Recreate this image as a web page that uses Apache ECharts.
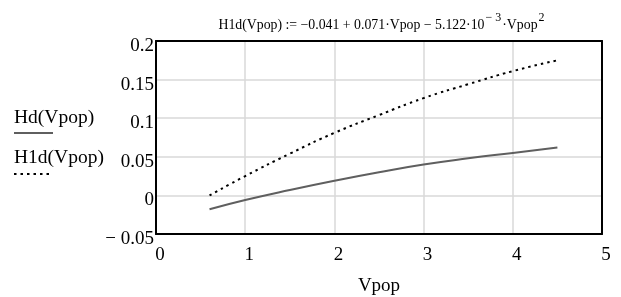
<!DOCTYPE html>
<html>
<head>
<meta charset="utf-8">
<script src="https://cdn.jsdelivr.net/npm/echarts@6/dist/echarts.min.js"></script>
<style>
  html, body { margin: 0; padding: 0; background: #fff; }
  #chart { width: 621px; height: 297px; }
</style>
</head>
<body>
<div id="chart"></div>
<script>
// values
const vpop = [0.6, 1.0, 1.5, 2.0, 2.5, 3.0, 3.5, 4.0, 4.5];
const hd   = [-0.018, -0.006, 0.007, 0.019, 0.030, 0.040, 0.048, 0.055, 0.062];
const h1d  = [0.000, 0.025, 0.054, 0.081, 0.104, 0.126, 0.144, 0.161, 0.175];
const xTicks = [0, 1, 2, 3, 4, 5];
const yTicks = [-0.05, 0, 0.05, 0.1, 0.15, 0.2];

const serif = 'Liberation Serif';
const myChart = echarts.init(document.getElementById('chart'));

// plain black frame line, kept on the grid edges (not at zero)
const frame = { show: true, onZero: false, lineStyle: { color: '#000', width: 2 } };

const option = {
  animation: false,
  textStyle: { fontFamily: serif },
  title: {
    text: '{a|H1d(Vpop) := −0.041 + 0.071·Vpop − 5.122·10}{sup|− 3}{a|·Vpop}{sup|2}',
    left: 377,
    top: 7,
    textAlign: 'center',
    textStyle: {
      rich: {
        a: { fontFamily: serif, fontSize: 13.8, fontWeight: 'normal', color: '#000', lineHeight: 20, verticalAlign: 'bottom' },
        sup: { fontFamily: serif, fontSize: 12, fontWeight: 'normal', color: '#000', lineHeight: 20, verticalAlign: 'top', padding: [0, 1, 0, 1] }
      }
    }
  },
  grid: { left: 156, right: 19, top: 41, bottom: 63, outerBoundsMode: 'none' },
  xAxis: [
    {
      type: 'value',
      min: 0, max: 5, interval: 1,
      name: 'Vpop',
      nameLocation: 'middle',
      nameGap: 43,
      nameTextStyle: { fontFamily: serif, fontSize: 19, color: '#000' },
      axisLine: frame,
      axisTick: { show: false },
      axisLabel: {
        fontFamily: serif, fontSize: 19, color: '#000', margin: 12, padding: [0, 0, 0, 8],
        formatter: v => xTicks.includes(v) ? String(v) : ''
      },
      splitLine: { show: true, lineStyle: { color: '#d9d9d9', width: 1.5 } }
    },
    {
      type: 'value', position: 'top',
      min: 0, max: 5, interval: 1,
      axisLine: frame, axisTick: { show: false }, axisLabel: { show: false }, splitLine: { show: false }
    }
  ],
  yAxis: [
    {
      type: 'value',
      min: -0.05, max: 0.2, interval: 0.05,
      axisLine: frame,
      axisTick: { show: false },
      axisLabel: {
        fontFamily: serif, fontSize: 19, color: '#000', margin: 2,
        verticalAlign: 'top', lineHeight: 10,
        formatter: v => {
          const t = yTicks.find(y => Math.abs(y - v) < 1e-9);
          if (t === undefined) return '';
          return t < 0 ? '− ' + String(-t) : String(t);
        }
      },
      splitLine: { show: true, lineStyle: { color: '#d9d9d9', width: 1.5 } }
    },
    {
      type: 'value', position: 'right',
      min: -0.05, max: 0.2, interval: 0.05,
      axisLine: frame, axisTick: { show: false }, axisLabel: { show: false }, splitLine: { show: false }
    }
  ],
  series: [
    {
      name: 'Hd(Vpop)',
      type: 'line',
      data: vpop.map((x, i) => [x, hd[i]]),
      smooth: true,
      showSymbol: false,
      lineStyle: { color: '#5f5f5f', width: 2 }
    },
    {
      name: 'H1d(Vpop)',
      type: 'line',
      data: vpop.map((x, i) => [x, h1d[i]]),
      smooth: true,
      showSymbol: false,
      lineStyle: { color: '#000', width: 2, type: [2.5, 4] }
    }
  ],
  graphic: [
    { type: 'text', left: 14, top: 108, style: { text: 'Hd(Vpop)', font: '19.5px "Liberation Serif"', fill: '#000' } },
    { type: 'line', shape: { x1: 14, y1: 133, x2: 53, y2: 133 }, style: { stroke: '#5f5f5f', lineWidth: 2 } },
    { type: 'text', left: 14, top: 148, style: { text: 'H1d(Vpop)', font: '19.5px "Liberation Serif"', fill: '#000' } },
    { type: 'line', shape: { x1: 14, y1: 174, x2: 53, y2: 174 }, style: { stroke: '#000', lineWidth: 2, lineDash: [2.5, 4] } }
  ]
};

myChart.setOption(option);
</script>
</body>
</html>
